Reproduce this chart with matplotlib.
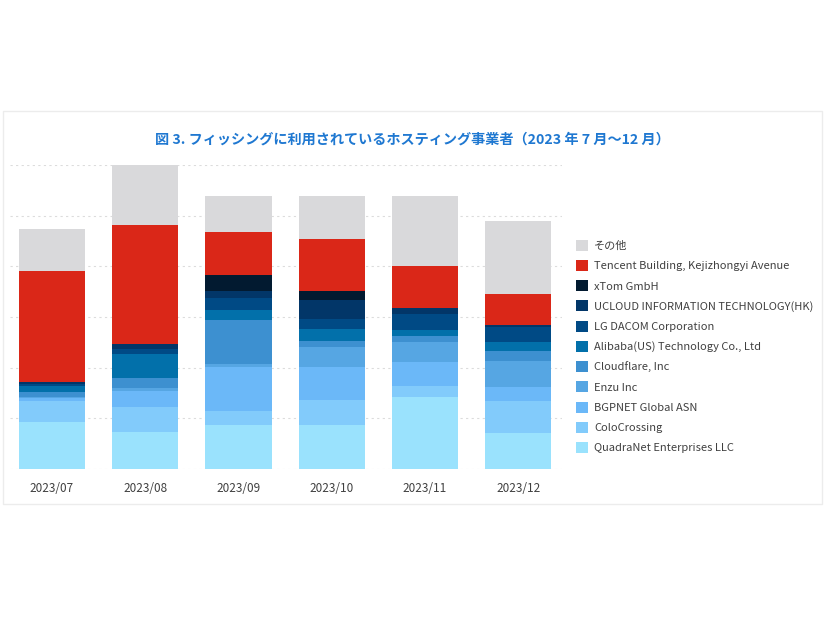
import numpy as np
import matplotlib
matplotlib.use("Agg")
import matplotlib.pyplot as plt
from matplotlib.patches import Rectangle

plt.rcParams['font.family'] = ['Noto Sans CJK JP', 'DejaVu Sans']

months = ["2023/07", "2023/08", "2023/09", "2023/10", "2023/11", "2023/12"]

# bottom -> top stacking order
quadranet  = [9.3, 7.3, 8.7, 8.6, 14.3, 7.1]
colocross  = [4.1, 4.9, 2.8, 5.1, 2.1, 6.3]
bgpnet     = [0.7, 3.2, 8.6, 6.5, 4.7, 2.8]
enzu       = [0.2, 0.5, 0.7, 3.8, 3.9, 5.2]
cloudflare = [0.9, 2.0, 8.6, 1.2, 1.2, 1.8]
alibaba    = [1.1, 4.7, 1.9, 2.5, 1.3, 1.9]
lgdacom    = [0.5, 1.1, 2.4, 2.0, 3.0, 3.0]
ucloud     = [0.4, 1.0, 1.4, 3.7, 1.2, 0.3]
xtom       = [0.0, 0.0, 3.2, 1.8, 0.0, 0.0]
tencent    = [21.9, 23.4, 8.4, 10.1, 8.4, 6.1]
other      = [8.2, 11.9, 7.1, 8.6, 13.8, 14.4]

series = [
    ("QuadraNet Enterprises LLC", quadranet, "#9ae2fd"),
    ("ColoCrossing", colocross, "#82cbfb"),
    ("BGPNET Global ASN", bgpnet, "#6bb8f8"),
    ("Enzu Inc", enzu, "#56a6e3"),
    ("Cloudflare, Inc", cloudflare, "#3d90d0"),
    ("Alibaba(US) Technology Co., Ltd", alibaba, "#0270aa"),
    ("LG DACOM Corporation", lgdacom, "#004a85"),
    ("UCLOUD INFORMATION TECHNOLOGY(HK)", ucloud, "#023668"),
    ("xTom GmbH", xtom, "#021a30"),
    ("Tencent Building, Kejizhongyi Avenue", tencent, "#da2718"),
    ("その他", other, "#d9d9db"),
]

fig = plt.figure(figsize=(8.26, 6.2), dpi=100)
ax = fig.add_axes([10/826, 1-469/620, 552/826, 304/620])

x = np.arange(len(months))
bottom = np.zeros(len(months))
handles = []
for name, vals, col in series:
    b = ax.bar(x, vals, bottom=bottom, width=0.71, color=col, label=name, zorder=2)
    handles.append(b)
    bottom += np.array(vals)

ax.set_ylim(0, 60)
ax.set_xlim(-0.45, 5.47)
ax.set_yticks(np.arange(0, 61, 10))
ax.yaxis.grid(True, color="#dcdcdc", linestyle=(0, (2, 3)), linewidth=0.8, zorder=0)
ax.tick_params(axis="y", length=0, labelleft=False)
ax.tick_params(axis="x", length=0, pad=9, labelsize=8.5, labelcolor="#404040")
ax.set_xticks(x)
ax.set_xticklabels(months)
for s in ax.spines.values():
    s.set_visible(False)

fig.text(412/826, 1-140/620,
         "図 3. フィッシングに利用されているホスティング事業者（2023 年 7 月〜12 月）",
         ha="center", va="center", fontsize=10.2, fontweight="bold", color="#1f78d1")

leg = fig.legend(handles[::-1], [s[0] for s in series][::-1],
                 loc="center left", bbox_to_anchor=(570/826, 1-346.5/620),
                 frameon=False, fontsize=8, labelcolor="#404040",
                 handlelength=1.15, handleheight=1.15, handletextpad=0.5,
                 labelspacing=0.8, borderpad=0)

fig.add_artist(Rectangle((3/826, 1-504/620), 819/826, 393/620,
                         transform=fig.transFigure, fill=False,
                         edgecolor="#ececec", linewidth=1))

plt.savefig("out.png", dpi=100)
